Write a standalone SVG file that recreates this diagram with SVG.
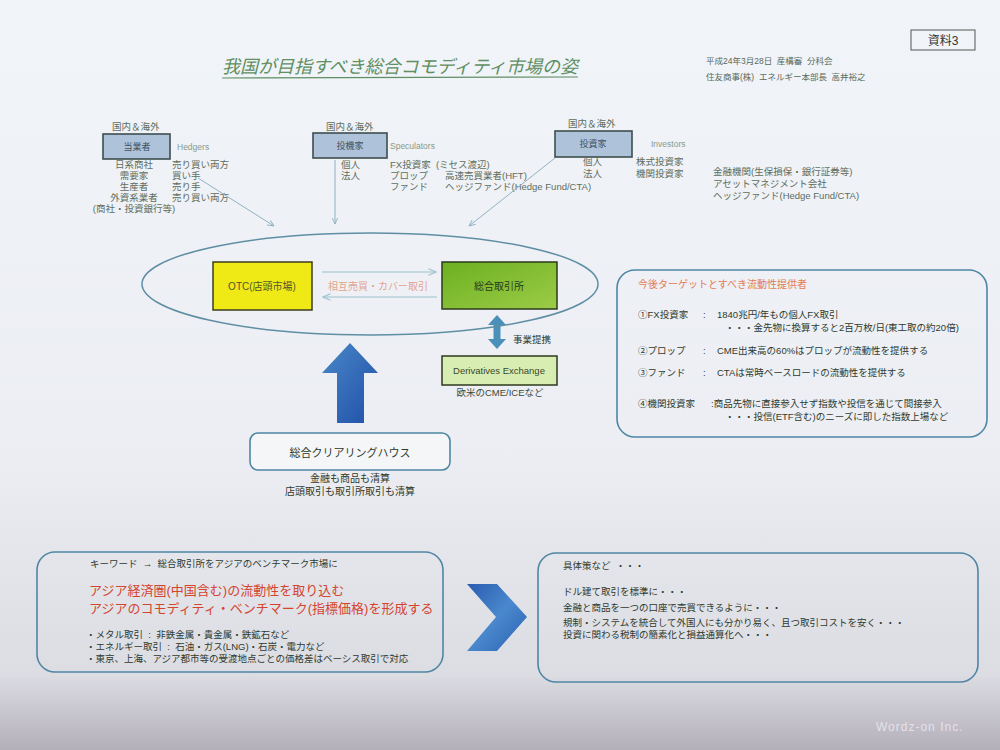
<svg xmlns="http://www.w3.org/2000/svg" width="1000" height="750" viewBox="0 0 1000 750">
<defs>
<linearGradient id="bg" x1="0" y1="0" x2="0" y2="1">
<stop offset="0" stop-color="#f1f4f8"/>
<stop offset="0.6" stop-color="#eceef3"/>
<stop offset="0.9" stop-color="#dcdce3"/>
<stop offset="1" stop-color="#b3afb9"/>
</linearGradient>
<linearGradient id="blueArrow" x1="0" y1="0" x2="1" y2="1">
<stop offset="0" stop-color="#4a88c8"/>
<stop offset="1" stop-color="#1f4fa8"/>
</linearGradient>
<linearGradient id="chev" x1="0" y1="0" x2="1" y2="1">
<stop offset="0" stop-color="#2a5cb0"/>
<stop offset="0.5" stop-color="#4a88cc"/>
<stop offset="1" stop-color="#2a60b4"/>
</linearGradient>
<linearGradient id="green" x1="0" y1="0" x2="1" y2="1">
<stop offset="0" stop-color="#6cb020"/>
<stop offset="1" stop-color="#9ccc48"/>
</linearGradient>
<marker id="ah" viewBox="0 0 10 10" refX="9" refY="5" markerWidth="7" markerHeight="7" orient="auto">
<path d="M0,1 L9,5 L0,9" fill="none" stroke="#8fb2c2" stroke-width="1.3"/>
</marker>
<marker id="ah2" viewBox="0 0 10 10" refX="9" refY="5" markerWidth="7" markerHeight="7" orient="auto">
<path d="M0,1 L9,5 L0,9" fill="none" stroke="#9cc2cc" stroke-width="1.3"/>
</marker>
</defs>
<style>
text{font-family:"Liberation Sans","Noto Sans CJK JP",sans-serif;white-space:pre;}
.t9{font-size:9.5px;fill:#5e6e5e;}
.t95{font-size:9.5px;fill:#2e3a2e;}
.en{font-size:8.5px;fill:#8a9a8a;}
.role{fill:#aec3da;stroke:#3e4e4e;stroke-width:1.6;}
.rlab{font-size:9px;fill:#3e5060;text-anchor:middle;}
.rbox{fill:none;stroke:#4f86a4;stroke-width:1.6;}
.conn{stroke:#8fb2c2;stroke-width:1;fill:none;}
.mid{text-anchor:middle;}
</style>
<rect x="0" y="0" width="1000" height="750" fill="url(#bg)"/>

<g id="header">
<rect x="911" y="30" width="64" height="20" fill="none" stroke="#555" stroke-width="1"/>
<text x="943" y="45" class="mid" font-size="12" fill="#333">資料3</text>
<text x="222" y="73" font-size="18" font-style="italic" fill="#5f8f62" textLength="356">我国が目指すべき総合コモディティ市場の姿</text>
<line x1="222" y1="78" x2="578" y2="77" stroke="#5f8f62" stroke-width="1.2"/>
<text x="706" y="64" font-size="8.5" fill="#5a6a5a">平成24年3月28日  産構審  分科会</text>
<text x="706" y="80" font-size="8.5" fill="#5a6a5a">住友商事(株)  エネルギー本部長  高井裕之</text>
</g>

<g id="hedgers">
<text x="112" y="130" class="t9">国内＆海外</text>
<rect x="103" y="134" width="67" height="25" class="role"/>
<text x="137" y="150" class="rlab">当業者</text>
<text x="177" y="150" class="en">Hedgers</text>
<text x="134" y="168" class="t9 mid">日系商社</text>
<text x="172" y="168" class="t9">売り買い両方</text>
<text x="134" y="179" class="t9 mid">需要家</text>
<text x="172" y="179" class="t9">買い手</text>
<text x="134" y="190" class="t9 mid">生産者</text>
<text x="172" y="190" class="t9">売り手</text>
<text x="134" y="201" class="t9 mid">外資系業者</text>
<text x="172" y="201" class="t9">売り買い両方</text>
<text x="134" y="212" class="t9 mid">(商社・投資銀行等)</text>
</g>

<g id="speculators">
<text x="326" y="130" class="t9">国内＆海外</text>
<rect x="313" y="133" width="74" height="25" class="role"/>
<text x="350" y="149" class="rlab">投機家</text>
<text x="390" y="149" class="en">Speculators</text>
<text x="341" y="168" class="t9">個人</text>
<text x="341" y="179" class="t9">法人</text>
<text x="390" y="168" class="t9">FX投資家  (ミセス渡辺)</text>
<text x="390" y="179" class="t9">プロップ</text>
<text x="445" y="179" class="t9">高速売買業者(HFT)</text>
<text x="390" y="190" class="t9">ファンド</text>
<text x="445" y="190" class="t9">ヘッジファンド(Hedge Fund/CTA)</text>
</g>

<g id="investors">
<text x="568" y="127" class="t9">国内＆海外</text>
<rect x="555" y="131" width="77" height="26" class="role"/>
<text x="593" y="147" class="rlab">投資家</text>
<text x="651" y="147" class="en">Investors</text>
<text x="583" y="165" class="t9">個人</text>
<text x="583" y="177" class="t9">法人</text>
<text x="636" y="165" class="t9">株式投資家</text>
<text x="636" y="177" class="t9">機関投資家</text>
<text x="713" y="175" class="t9">金融機関(生保損保・銀行証券等)</text>
<text x="713" y="187" class="t9">アセットマネジメント会社</text>
<text x="713" y="199" class="t9">ヘッジファンド(Hedge Fund/CTA)</text>
</g>

<g id="connectors">
<line x1="198" y1="178" x2="274" y2="226" class="conn" marker-end="url(#ah)"/>
<line x1="335" y1="160" x2="335" y2="224" class="conn" marker-end="url(#ah)"/>
<line x1="555" y1="158" x2="469" y2="226" class="conn" marker-end="url(#ah)"/>
<line x1="322" y1="272" x2="436" y2="272" stroke="#9cc2cc" stroke-width="1.2" marker-end="url(#ah2)"/>
<line x1="437" y1="297" x2="323" y2="297" stroke="#9cc2cc" stroke-width="1.2" marker-end="url(#ah2)"/>
<polygon points="497,315 506,325 500.5,325 500.5,339 506,339 497,349 488,339 493.5,339 493.5,325 488,325" fill="#4a90b8"/>
<polygon points="350,343 378,373 364,373 364,423 337,423 337,373 322,373" fill="url(#blueArrow)"/>
</g>

<g id="market">
<ellipse cx="370" cy="284" rx="228" ry="51" fill="none" stroke="#5f8ea4" stroke-width="1.5"/>
<text x="378" y="290" class="mid" font-size="10" fill="#e2a590">相互売買・カバー取引</text>
</g>

<g id="otc">
<rect x="213" y="262" width="99" height="48" fill="#efe915" stroke="#3c3c20" stroke-width="1.5"/>
<text x="262" y="290" class="mid" font-size="10" fill="#555530">OTC(店頭市場)</text>
</g>

<g id="exchange">
<rect x="442" y="262" width="115" height="47" fill="url(#green)" stroke="#2c3a1c" stroke-width="1.5"/>
<text x="499" y="290" class="mid" font-size="10" fill="#2a3a1a">総合取引所</text>
</g>

<g id="derivatives">
<text x="513" y="343" font-size="9.5" fill="#2e3a2e">事業提携</text>
<rect x="442" y="356" width="115" height="29" fill="#d8edb2" stroke="#2c3a1c" stroke-width="1.5"/>
<text x="499" y="374" class="mid" font-size="9.5" fill="#3a4a2a">Derivatives Exchange</text>
<text x="500" y="396" class="mid" font-size="9.5" fill="#3a4a3a">欧米のCME/ICEなど</text>
</g>

<g id="clearing">
<rect x="250" y="433" width="200" height="37" rx="8" fill="#f4f6f8" stroke="#4f86a4" stroke-width="1.6"/>
<text x="350" y="457" class="mid" font-size="11" fill="#2e3a2e">総合クリアリングハウス</text>
<text x="350" y="482" class="mid" font-size="10" fill="#2e3a2e">金融も商品も清算</text>
<text x="350" y="495" class="mid" font-size="10" fill="#2e3a2e">店頭取引も取引所取引も清算</text>
</g>

<g id="liquidity">
<rect x="617" y="270" width="370" height="167" rx="18" class="rbox"/>
<text x="638" y="288" font-size="10" fill="#e47a52">今後ターゲットとすべき流動性提供者</text>
<text x="638" y="318" class="t95">①FX投資家</text>
<text x="703" y="318" class="t95">:</text>
<text x="717" y="318" class="t95">1840兆円/年もの個人FX取引</text>
<text x="725" y="331" class="t95">・・・金先物に換算すると2百万枚/日(東工取の約20倍)</text>
<text x="638" y="354" class="t95">②プロップ</text>
<text x="703" y="354" class="t95">:</text>
<text x="717" y="354" class="t95">CME出来高の60%はプロップが流動性を提供する</text>
<text x="638" y="376" class="t95">③ファンド</text>
<text x="703" y="376" class="t95">:</text>
<text x="717" y="376" class="t95">CTAは常時ベースロードの流動性を提供する</text>
<text x="638" y="407" class="t95">④機関投資家</text>
<text x="711" y="407" class="t95">:商品先物に直接参入せず指数や投信を通じて間接参入</text>
<text x="725" y="420" class="t95">・・・投信(ETF含む)のニーズに即した指数上場など</text>
</g>

<g id="keyword">
<rect x="37" y="552" width="406" height="120" rx="18" class="rbox"/>
<text x="90" y="567" class="t95">キーワード  →  総合取引所をアジアのベンチマーク市場に</text>
<text x="89" y="595" font-size="13" fill="#d4452f">アジア経済圏(中国含む)の流動性を取り込む</text>
<text x="89" y="613" font-size="13" fill="#d4452f">アジアのコモディティ・ベンチマーク(指標価格)を形成する</text>
<text x="86" y="638" class="t95">・メタル取引  :  非鉄金属・貴金属・鉄鉱石など</text>
<text x="86" y="650" class="t95">・エネルギー取引  :  石油・ガス(LNG)・石炭・電力など</text>
<text x="86" y="662" class="t95">・東京、上海、アジア都市等の受渡地点ごとの価格差はベーシス取引で対応</text>
</g>

<g id="chevron">
<polygon points="467,584 497,584 527,617 497,651 467,651 496,617" fill="url(#chev)"/>
</g>

<g id="measures">
<rect x="538" y="553" width="440" height="129" rx="18" class="rbox"/>
<text x="563" y="569" class="t95">具体策など  ・・・</text>
<text x="563" y="595" class="t95">ドル建て取引を標準に・・・</text>
<text x="563" y="611" class="t95">金融と商品を一つの口座で売買できるように・・・</text>
<text x="563" y="626" class="t95">規制・システムを統合して外国人にも分かり易く、且つ取引コストを安く・・・</text>
<text x="563" y="638" class="t95">投資に関わる税制の簡素化と損益通算化へ・・・</text>
</g>

<text x="876" y="731" font-size="12" fill="#e6e0ea" letter-spacing="1">Wordz-on Inc.</text>
</svg>
